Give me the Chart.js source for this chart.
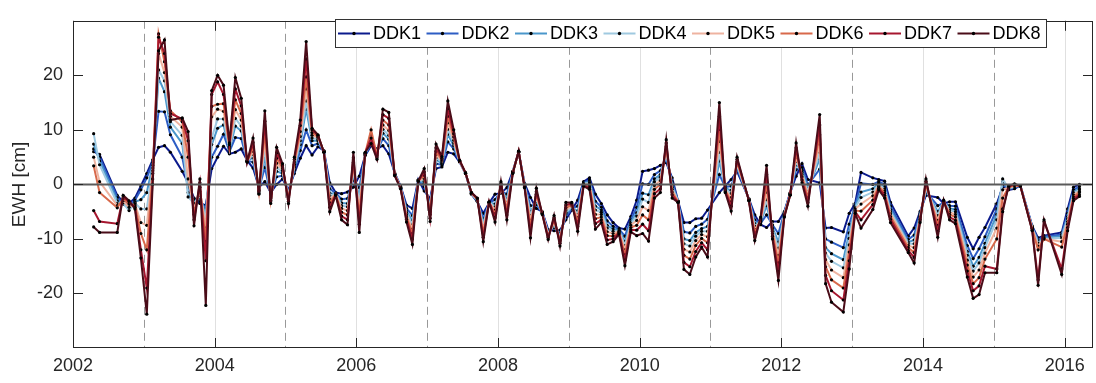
<!DOCTYPE html>
<html><head><meta charset="utf-8">
<script src="https://cdn.jsdelivr.net/npm/chart.js@4.4.0/dist/chart.umd.min.js"></script>
<style>html,body{margin:0;padding:0;background:#fff;}canvas{display:block;}</style>
</head><body>
<canvas id="c" width="1096" height="383"></canvas>
<script>
const months = [
'2002-04','2002-05','2002-08','2002-09','2002-10','2002-11','2002-12',
'2003-01','2003-02','2003-03','2003-04','2003-05','2003-07','2003-08','2003-09','2003-10','2003-11','2003-12',
'2004-01','2004-02','2004-03','2004-04','2004-05','2004-06','2004-07','2004-08','2004-09','2004-10','2004-11','2004-12',
'2005-01','2005-02','2005-03','2005-04','2005-05','2005-06','2005-07','2005-08','2005-09','2005-10','2005-11','2005-12',
'2006-01','2006-02','2006-03','2006-04','2006-05','2006-06','2006-07','2006-08','2006-09','2006-10','2006-11','2006-12',
'2007-01','2007-02','2007-03','2007-04','2007-05','2007-06','2007-07','2007-08','2007-09','2007-10','2007-11','2007-12',
'2008-01','2008-02','2008-03','2008-04','2008-05','2008-06','2008-07','2008-08','2008-09','2008-10','2008-11','2008-12',
'2009-01','2009-02','2009-03','2009-04','2009-05','2009-06','2009-07','2009-08','2009-09','2009-10','2009-11','2009-12',
'2010-01','2010-02','2010-03','2010-04','2010-05','2010-06','2010-07','2010-08','2010-09','2010-10','2010-11','2010-12',
'2011-02','2011-03','2011-04','2011-05','2011-07','2011-08','2011-09','2011-10','2011-11','2011-12',
'2012-01','2012-02','2012-03','2012-04','2012-05','2012-07','2012-08','2012-09','2012-11','2012-12',
'2013-01','2013-02','2013-04','2013-05','2013-06','2013-07','2013-10','2013-11','2013-12',
'2014-01','2014-03','2014-04','2014-05','2014-06','2014-08','2014-09','2014-10','2014-11',
'2015-01','2015-02','2015-03','2015-04','2015-05','2015-07','2015-08','2015-09','2015-12',
'2016-01','2016-02','2016-03'];

const DDK1 = [
6.0,5.5,-2.0,-3.2,-3.5,-2.5,-0.3,
2.0,4.5,6.8,7.1,5.9,2.4,0.3,-2.5,-3.5,-3.8,2.9,
5.0,7.0,5.6,5.9,6.5,4.4,3.0,-0.5,0.5,-1.5,0.0,1.0,
-1.0,2.0,4.8,7.1,5.4,6.9,6.2,0.3,-1.5,-1.7,-1.4,-0.5,
1.5,5.3,7.1,6.5,7.1,5.6,2.1,-0.3,-3.8,-4.4,0.9,-1.2,
-2.6,2.9,3.2,5.9,5.6,4.1,2.0,-1.8,-3.2,-5.3,-3.4,-1.8,
-1.6,-0.6,2.4,5.9,0.2,-2.4,-4.4,-5.0,-8.3,-8.5,-8.4,-6.5,
-4.7,-2.9,0.5,1.2,-1.8,-3.5,-5.6,-7.0,-8.0,-8.2,-5.9,-2.9,
2.4,2.6,2.9,3.5,4.0,1.2,-3.0,-7.0,-7.0,-6.3,-6.2,-4.7,
-1.5,-0.3,0.9,2.4,-2.6,-5.6,-7.4,-7.9,-6.8,-6.8,
-5.0,-1.5,1.5,3.8,0.9,0.3,-8.0,-7.9,-8.7,-5.3,
-3.5,2.2,1.2,0.9,0.6,-3.3,-9.5,-8.0,-5.0,
-2.0,-2.4,-3.5,-3.2,-3.2,-9.7,-11.8,-9.7,-7.9,
-3.5,-0.5,-1.0,-0.8,-0.2,-7.6,-9.8,-9.4,-8.8,
-4.5,-0.5,0.0];

const DDK2 = [
6.5,5.0,-2.4,-3.5,-4.0,-2.9,-1.0,
1.2,4.0,13.4,13.3,9.1,5.0,-0.5,-2.8,-3.0,-4.5,5.0,
7.0,9.2,6.0,8.6,8.4,4.3,4.1,-0.8,3.1,-1.9,1.4,1.6,
-1.5,2.6,6.2,10.0,7.1,7.5,6.1,-0.8,-1.6,-2.7,-2.6,0.8,
-0.6,5.4,7.5,6.1,8.4,7.1,2.0,-0.4,-4.4,-5.7,0.8,-0.4,
-3.4,3.8,3.6,7.8,6.5,4.2,2.0,-1.7,-3.1,-6.3,-3.4,-2.8,
-1.2,-1.8,2.3,5.9,0.0,-3.9,-3.7,-5.1,-8.7,-7.9,-9.0,-5.9,
-4.4,-4.0,0.3,0.8,-3.1,-4.2,-6.7,-7.7,-8.2,-9.5,-6.5,-4.2,
0.1,0.0,1.8,2.5,4.8,0.5,-3.1,-8.7,-8.9,-7.7,-7.3,-6.4,
1.8,-0.5,-0.3,2.9,-2.7,-6.5,-7.1,-5.6,-7.4,-9.0,
-5.2,-1.6,2.7,3.1,-0.1,2.8,-10.0,-10.6,-11.6,-7.3,
-3.9,0.2,0.0,0.5,0.0,-4.0,-10.1,-9.3,-5.4,
-1.4,-3.9,-3.4,-3.9,-4.0,-11.2,-13.6,-11.8,-9.6,
-4.5,0.0,-0.9,-0.6,-0.2,-7.8,-10.2,-9.6,-9.2,
-5.3,-1.0,-0.4];

const DDK3 = [
7.4,4.3,-3.0,-3.6,-4.5,-3.2,-2.8,
-1.5,3.5,19.5,17.0,10.5,7.5,-1.5,-3.2,-2.5,-5.5,7.3,
10.3,10.9,6.3,10.7,9.8,4.3,4.9,-1.0,5.1,-2.2,2.4,2.0,
-1.9,3.1,7.3,13.8,8.0,8.0,6.1,-1.6,-1.7,-3.4,-3.5,1.7,
-2.1,5.5,8.0,5.8,9.4,8.3,1.9,-0.5,-4.9,-6.7,0.8,0.2,
-4.1,4.5,3.9,9.2,7.1,4.2,2.0,-1.7,-3.0,-7.1,-3.3,-3.6,
-0.9,-2.7,2.3,6.0,-0.1,-5.0,-3.1,-5.2,-8.9,-7.5,-9.4,-5.4,
-4.2,-4.9,0.2,0.5,-4.0,-4.7,-7.5,-8.2,-8.4,-10.5,-6.9,-5.2,
-1.6,-1.9,1.0,1.8,5.5,-0.1,-3.1,-10.0,-10.3,-8.8,-8.1,-7.7,
4.3,-0.7,-1.1,3.3,-2.7,-7.2,-6.9,-3.9,-7.9,-10.6,
-5.4,-1.7,3.6,2.6,-0.8,4.7,-11.6,-12.7,-13.8,-8.9,
-4.1,-1.4,-0.8,0.2,-0.5,-4.6,-10.6,-10.2,-5.7,
-1.0,-5.0,-3.3,-4.4,-4.6,-12.3,-15.0,-13.4,-10.8,
-5.5,0.5,-0.8,-0.5,-0.2,-7.9,-10.5,-9.8,-9.5,
-5.9,-1.4,-0.8];

const DDK4 = [
9.3,3.6,-3.5,-3.4,-4.8,-3.4,-4.5,
-4.5,3.0,21.0,19.0,11.5,9.0,-2.3,-3.5,-2.0,-6.5,8.5,
12.0,12.0,6.5,12.1,10.7,4.3,5.5,-1.1,6.4,-2.4,3.1,2.3,
-2.1,3.4,8.0,15.3,8.5,8.3,6.1,-2.1,-1.7,-3.9,-4.1,2.4,
-3.1,5.6,8.5,5.6,10.1,9.0,1.9,-0.5,-5.2,-7.4,0.8,0.6,
-4.5,4.9,4.1,10.1,7.6,4.2,2.0,-1.7,-2.9,-7.6,-3.3,-4.1,
-0.7,-3.3,2.2,6.0,-0.2,-5.7,-2.7,-5.2,-9.1,-7.2,-9.7,-5.1,
-4.1,-5.5,0.1,0.3,-4.7,-5.1,-8.0,-8.6,-8.5,-11.2,-7.2,-5.8,
-2.7,-3.3,0.5,1.3,5.9,-0.5,-3.1,-10.9,-11.3,-9.5,-8.6,-8.6,
5.9,-0.8,-1.7,3.6,-2.8,-7.7,-6.8,-2.8,-8.2,-11.7,
-5.5,-1.7,4.2,2.2,-1.3,5.9,-12.6,-14.1,-15.3,-9.9,
-4.3,-2.4,-1.4,0.0,-0.8,-5.0,-10.9,-10.9,-5.9,
-0.7,-5.7,-3.2,-4.7,-5.0,-13.0,-15.9,-14.4,-11.6,
-6.5,1.0,-0.7,-0.4,-0.2,-8.0,-10.8,-10.0,-9.8,
-6.3,-1.6,-1.0];

const DDK5 = [
5.0,0.5,-3.9,-3.0,-4.2,-3.6,-7.0,
-7.5,2.5,24.0,20.5,12.5,10.5,1.0,-4.5,-1.3,-8.0,12.4,
13.8,13.4,6.7,13.7,11.8,4.2,6.1,-1.2,7.9,-2.6,3.9,2.6,
-2.4,3.7,8.8,17.5,9.0,8.6,6.0,-2.7,-1.8,-4.4,-4.8,3.1,
-4.4,5.6,9.2,5.4,10.9,9.9,1.8,-0.6,-5.6,-8.2,0.7,1.1,
-5.0,5.5,4.3,11.3,8.1,4.3,2.1,-1.6,-2.8,-8.3,-3.3,-4.7,
-0.4,-4.0,2.2,6.0,-0.3,-6.6,-2.3,-5.3,-9.3,-6.9,-10.1,-4.7,
-3.9,-6.1,0.0,0.0,-5.5,-5.5,-8.7,-9.0,-8.6,-12.0,-7.5,-6.6,
-4.1,-4.8,-0.2,0.7,6.4,-0.9,-3.2,-11.9,-12.4,-10.3,-9.2,-9.6,
7.9,-1.0,-2.4,3.9,-2.8,-8.3,-6.6,-1.4,-8.6,-13.0,
-5.6,-1.8,5.0,1.8,-1.9,7.4,-13.8,-15.7,-17.1,-11.1,
-4.5,-3.6,-2.1,-0.2,-1.2,-5.4,-11.2,-11.6,-6.1,
-0.3,-6.6,-3.2,-5.1,-5.5,-13.9,-17.0,-15.7,-12.6,
-8.0,-1.0,-0.6,-0.3,-0.3,-8.1,-11.3,-10.0,-10.5,
-6.8,-1.9,-1.3];

const DDK6 = [
3.4,-1.5,-4.3,-2.6,-3.6,-3.9,-9.0,
-12.0,2.0,27.6,22.5,13.5,11.5,5.0,-5.5,-0.5,-10.5,14.3,
14.7,14.8,7.0,15.5,13.0,4.2,6.9,-1.4,9.6,-2.9,4.8,3.0,
-2.8,4.1,9.7,19.7,9.5,8.8,6.0,-3.4,-1.9,-5.1,-5.6,4.0,
-5.7,5.7,10.0,5.2,11.8,10.9,1.8,-0.7,-6.0,-9.0,0.7,1.7,
-5.5,6.1,4.5,12.5,8.7,4.3,2.1,-1.6,-2.7,-8.9,-3.3,-5.4,
-0.1,-4.7,2.1,6.0,-0.4,-7.6,-1.8,-5.4,-9.6,-6.5,-10.4,-4.3,
-3.7,-6.9,-0.1,-0.3,-6.3,-6.0,-9.4,-9.5,-8.8,-12.9,-7.9,-7.5,
-5.6,-6.5,-0.9,0.0,6.9,-1.4,-3.2,-13.0,-13.7,-11.2,-9.9,-10.7,
10.1,-1.1,-3.2,4.2,-2.9,-8.9,-6.4,0.1,-9.0,-14.4,
-5.7,-1.9,5.8,1.4,-2.5,9.1,-15.1,-17.5,-19.0,-12.4,
-4.8,-4.9,-2.9,-0.4,-1.6,-5.9,-11.6,-12.5,-6.4,
0.1,-7.5,-3.1,-5.5,-6.0,-14.8,-18.2,-17.1,-13.7,
-10.0,-2.5,-0.5,-0.2,-0.3,-8.2,-12.0,-10.0,-11.5,
-7.3,-2.3,-1.5];

const DDK7 = [
-4.8,-6.8,-7.2,-2.3,-3.2,-4.2,-12.0,
-19.0,1.0,27.0,24.0,13.0,12.0,8.0,-6.5,0.3,-14.0,16.5,
18.8,16.5,7.3,17.5,14.4,4.1,7.7,-1.6,11.6,-3.2,5.8,3.4,
-3.1,4.6,10.8,23.0,10.0,9.0,5.9,-4.2,-1.9,-5.8,-6.5,4.9,
-7.3,5.8,8.5,4.9,12.8,12.1,1.7,-0.7,-6.4,-10.0,0.6,2.3,
-6.2,6.7,4.8,13.9,9.3,4.4,2.1,-1.5,-2.6,-9.7,-3.2,-6.1,
0.2,-5.6,2.1,6.1,-0.5,-8.7,-1.3,-5.4,-9.8,-6.1,-10.8,-3.8,
-3.5,-7.7,-0.2,-0.6,-7.2,-6.5,-10.2,-10.0,-8.9,-13.9,-8.3,-8.4,
-7.3,-8.5,-1.7,-0.8,7.6,-1.9,-3.3,-14.3,-15.1,-12.3,-10.7,-12.0,
12.5,-1.3,-4.0,4.6,-2.9,-9.6,-6.2,1.8,-9.5,-16.0,
-5.9,-1.9,6.7,0.8,-3.3,10.9,-16.7,-19.5,-21.2,-14.0,
-5.0,-6.5,-3.7,-0.7,-2.0,-6.4,-12.1,-13.4,-6.7,
0.6,-8.6,-3.0,-6.0,-6.6,-15.9,-19.5,-18.6,-15.0,
-15.5,-4.5,-0.4,0.0,-0.3,-8.4,-17.5,-6.8,-15.5,
-7.9,-2.6,-1.9];

const DDK8 = [
-7.8,-8.8,-8.8,-2.0,-3.0,-4.5,-13.5,
-23.8,0.0,24.5,26.5,11.8,12.2,9.7,-7.6,1.0,-22.2,17.2,
20.0,18.2,7.6,19.6,15.8,4.1,8.5,-1.8,13.5,-3.5,6.8,3.8,
-3.5,5.0,11.8,26.2,10.3,9.1,5.9,-5.0,-2.0,-6.5,-7.4,5.9,
-8.8,5.9,7.5,4.6,13.8,13.2,1.6,-0.8,-6.9,-11.0,0.6,2.9,
-6.8,7.4,5.1,15.3,10.0,4.4,2.1,-1.5,-2.5,-10.5,-3.2,-6.9,
0.5,-6.5,2.0,6.1,-0.6,-9.8,-0.7,-5.5,-10.1,-5.7,-11.3,-3.3,
-3.3,-8.6,-0.3,-0.9,-8.2,-7.0,-11.0,-10.5,-9.1,-14.9,-8.7,-9.4,
-9.0,-10.4,-2.5,-1.5,8.2,-2.5,-3.3,-15.6,-16.5,-13.3,-11.5,-13.3,
15.0,-1.5,-4.9,5.0,-3.0,-10.3,-6.0,3.5,-10.0,-17.6,
-6.0,-2.0,7.6,0.3,-4.0,12.8,-18.2,-21.6,-23.4,-15.5,
-5.3,-8.0,-4.6,-1.0,-2.5,-7.0,-12.5,-14.4,-7.0,
1.0,-9.7,-2.9,-6.5,-7.2,-17.0,-20.9,-20.2,-16.2,
-16.2,-5.0,-0.3,0.1,-0.3,-8.5,-18.5,-6.5,-16.5,
-8.5,-3.0,-2.2];

const seriesNames = ['DDK1','DDK2','DDK3','DDK4','DDK5','DDK6','DDK7','DDK8'];
const seriesColors = ['#0b1a8c','#2d5dc4','#4a97cb','#9fc9e0','#eeb3a0','#d8694b','#a6172f','#4a0c18'];
const xTickValues = [2002,2004,2006,2008,2010,2012,2014,2016];
const dashedYears = [2003,2005,2007,2009,2011,2013,2015];
const yTickValues = [-20,-10,0,10,20];
const yLabel = 'EWH [cm]';

const FONT = '"Liberation Sans", Arial, Helvetica, sans-serif';
const TEXT = '#262626';

const toYear = s => { const p = s.split('-').map(Number); return p[0] + (p[1] - 0.5) / 12; };
const xs = months.map(toYear);
const allSeries = [DDK1,DDK2,DDK3,DDK4,DDK5,DDK6,DDK7,DDK8];

const datasets = allSeries.map((arr, i) => ({
  label: seriesNames[i],
  data: arr.map((v, j) => ({x: xs[j], y: v})),
  borderColor: seriesColors[i],
  backgroundColor: seriesColors[i],
  borderWidth: 2,
  pointRadius: 1.6,
  pointBackgroundColor: '#000',
  pointBorderColor: '#000',
  pointBorderWidth: 0,
  pointHoverRadius: 0,
  tension: 0,
  fill: false,
  order: 8 - i
}));

const framePlugin = {
  id: 'frame',
  beforeDatasetsDraw(chart) {
    const {ctx, chartArea: a, scales: {x}} = chart;
    ctx.save();
    ctx.beginPath(); ctx.rect(a.left, a.top, a.right - a.left, a.bottom - a.top); ctx.clip();
    ctx.strokeStyle = '#e0e0e0'; ctx.lineWidth = 1;
    xTickValues.forEach(v => {
      const px = Math.round(x.getPixelForValue(v)) + 0.5;
      ctx.beginPath(); ctx.moveTo(px, a.top); ctx.lineTo(px, a.bottom); ctx.stroke();
    });
    ctx.strokeStyle = '#999999'; ctx.setLineDash([8, 5]);
    dashedYears.forEach(v => {
      const px = Math.round(x.getPixelForValue(v)) + 0.5;
      ctx.beginPath(); ctx.moveTo(px, a.top); ctx.lineTo(px, a.bottom); ctx.stroke();
    });
    ctx.restore();
  },
  afterDatasetsDraw(chart) {
    const {ctx, chartArea: a, scales: {x, y}} = chart;
    ctx.save();
    const py = y.getPixelForValue(0);
    ctx.strokeStyle = '#5a5a5a'; ctx.lineWidth = 2;
    ctx.beginPath(); ctx.moveTo(a.left, py); ctx.lineTo(a.right, py); ctx.stroke();
    ctx.strokeStyle = '#262626'; ctx.lineWidth = 1;
    ctx.strokeRect(Math.round(a.left) + 0.5, Math.round(a.top) + 0.5, Math.round(a.right - a.left) - 1, Math.round(a.bottom - a.top) - 1);
    const TL = 10;
    ctx.beginPath();
    xTickValues.forEach(v => {
      const px = Math.round(x.getPixelForValue(v)) + 0.5;
      ctx.moveTo(px, a.bottom); ctx.lineTo(px, a.bottom - TL);
      ctx.moveTo(px, a.top); ctx.lineTo(px, a.top + TL);
    });
    yTickValues.forEach(v => {
      const pyy = Math.round(y.getPixelForValue(v)) + 0.5;
      ctx.moveTo(a.left, pyy); ctx.lineTo(a.left + TL, pyy);
      ctx.moveTo(a.right, pyy); ctx.lineTo(a.right - TL, pyy);
    });
    ctx.stroke();
    const L = {x: 335, y: 19, w: 711, h: 28, entryW: 88.5, lineLen: 32};
    ctx.fillStyle = '#fff';
    ctx.fillRect(L.x, L.y, L.w, L.h);
    ctx.strokeStyle = '#333'; ctx.lineWidth = 1;
    ctx.strokeRect(L.x + 0.5, L.y + 0.5, L.w, L.h);
    const cy = L.y + L.h / 2 + 0.5;
    chart.data.datasets.forEach((ds, i) => {
      const ex = L.x + 3 + i * L.entryW;
      ctx.strokeStyle = ds.borderColor; ctx.lineWidth = 2;
      ctx.beginPath(); ctx.moveTo(ex, cy); ctx.lineTo(ex + L.lineLen, cy); ctx.stroke();
      ctx.fillStyle = '#000';
      ctx.beginPath(); ctx.arc(ex + L.lineLen / 2, cy, 1.7, 0, Math.PI * 2); ctx.fill();
      ctx.font = '18px ' + FONT;
      ctx.textBaseline = 'middle'; ctx.textAlign = 'left';
      ctx.fillText(ds.label, ex + L.lineLen + 3, cy + 1);
    });
    ctx.restore();
  }
};

new Chart(document.getElementById('c').getContext('2d'), {
  type: 'line',
  data: {datasets},
  options: {
    responsive: false,
    animation: false,
    devicePixelRatio: 1,
    events: [],
    layout: {padding: {top: 10, right: 3, left: 0, bottom: 0}},
    plugins: {legend: {display: false}, tooltip: {enabled: false}},
    scales: {
      x: {
        type: 'linear', min: 2002, max: 2016.4,
        afterBuildTicks: s => { s.ticks = xTickValues.map(v => ({value: v})); },
        afterFit: s => { s.height = 35; },
        grid: {display: false, drawTicks: false},
        border: {display: false},
        ticks: {padding: 7, color: TEXT, font: {family: FONT, size: 18}, maxRotation: 0, autoSkip: false, callback: v => String(v)}
      },
      y: {
        type: 'linear', min: -30, max: 30,
        afterBuildTicks: s => { s.ticks = yTickValues.map(v => ({value: v})); },
        afterFit: s => { s.width = 73; },
        grid: {display: false, drawTicks: false},
        border: {display: false},
        ticks: {padding: 10, color: TEXT, font: {family: FONT, size: 18}, callback: v => String(v)},
        title: {display: true, text: yLabel, color: TEXT, font: {family: FONT, size: 19}, padding: {top: 8, bottom: 0}}
      }
    }
  },
  plugins: [framePlugin]
});
</script>
</body></html>
